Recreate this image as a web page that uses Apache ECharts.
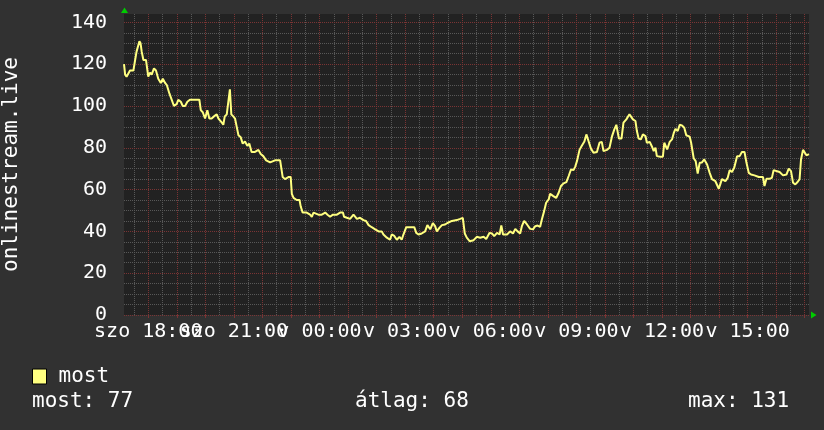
<!DOCTYPE html>
<html>
<head>
<meta charset="utf-8">
<script src="https://cdn.jsdelivr.net/npm/echarts@6/dist/echarts.min.js"></script>
<style>
  html, body { margin: 0; padding: 0; background: #313131; }
  #chart { width: 824px; height: 430px; }
</style>
</head>
<body>
<div id="chart"></div>
<script>
// idő órában, szombat 00:00-tól számolva (24 felett = vasárnap)
const TIME_H = [
  17.15, 17.19, 17.24, 17.30, 17.36, 17.48, 17.54, 17.59, 17.69, 17.73, 17.77, 17.83, 17.92,
  18.00, 18.06, 18.12, 18.20, 18.27, 18.35, 18.44, 18.51, 18.59, 18.65, 18.74, 18.82, 18.90,
  19.00, 19.05, 19.14, 19.21, 19.29, 19.37, 19.46, 19.58, 19.70, 19.79, 19.84, 19.91, 19.99,
  20.07, 20.14, 20.22, 20.30, 20.40, 20.46, 20.51, 20.58, 20.63, 20.68, 20.75, 20.81, 20.86, 20.91, 20.98,
  21.04, 21.10, 21.16, 21.24, 21.31, 21.39, 21.47, 21.54, 21.62, 21.74, 21.86, 21.94,
  22.03, 22.13, 22.27, 22.44, 22.62, 22.69, 22.71, 22.79, 22.91, 22.99,
  23.03, 23.09, 23.20, 23.30, 23.34, 23.41, 23.55, 23.67, 23.73, 23.79, 23.96,
  24.08, 24.20, 24.28, 24.37, 24.47, 24.61, 24.72, 24.82, 24.86, 24.96,
  25.07, 25.19, 25.31, 25.42, 25.54, 25.63, 25.72, 25.83, 25.95,
  26.07, 26.18, 26.24, 26.36, 26.47, 26.53, 26.61, 26.71, 26.80, 26.88, 26.94,
  27.04, 27.18, 27.32, 27.39, 27.47, 27.58, 27.70, 27.78, 27.88, 27.97,
  28.05, 28.11, 28.20, 28.29, 28.40, 28.48, 28.55, 28.64, 28.81, 28.93,
  29.02, 29.07, 29.09, 29.16, 29.26, 29.40, 29.51, 29.63, 29.75, 29.84, 29.96,
  30.04, 30.12, 30.22, 30.31, 30.37, 30.43, 30.57, 30.68, 30.78, 30.86, 30.94,
  31.03, 31.09, 31.17, 31.27, 31.38, 31.48, 31.56, 31.64, 31.73, 31.79, 31.87, 31.94,
  32.03, 32.08, 32.18, 32.29, 32.38, 32.46, 32.55, 32.65, 32.73, 32.81, 32.90, 32.96,
  33.02, 33.11, 33.19, 33.28, 33.35, 33.43, 33.51, 33.60, 33.72, 33.81, 33.89, 33.95,
  34.07, 34.16, 34.25, 34.33, 34.40, 34.44, 34.49, 34.58, 34.65, 34.75, 34.86, 34.98,
  35.07, 35.12, 35.18, 35.26, 35.33, 35.42, 35.47, 35.57, 35.65, 35.71, 35.77, 35.82, 35.94,
  36.03, 36.08, 36.18, 36.27, 36.35, 36.41, 36.47, 36.55, 36.62, 36.70, 36.78, 36.85, 36.97,
  37.02, 37.11, 37.18, 37.25, 37.32, 37.40, 37.48, 37.58, 37.67, 37.75, 37.87, 37.99,
  38.04, 38.10, 38.22, 38.30, 38.37, 38.45, 38.53, 38.63, 38.72, 38.80, 38.89, 38.96,
  39.04, 39.12, 39.24, 39.39, 39.54, 39.59, 39.66, 39.77, 39.85, 39.91,
  40.03, 40.12, 40.24, 40.36, 40.44, 40.52, 40.59, 40.67, 40.75, 40.82, 40.87, 40.94, 40.99,
  41.06, 41.15
];
const VIEWERS = [
  120, 115, 114, 114, 117, 117, 122, 126, 131, 130, 126, 122, 122,
  114, 116, 115, 118, 117, 113, 111, 113, 111, 110, 106, 103, 100,
  101, 103, 102, 100, 100, 102, 103, 103, 103, 103, 98, 97, 94,
  98, 94, 94, 95, 96, 94, 94, 92, 91, 95, 96, 96, 108, 96, 95,
  94, 90, 86, 85, 82, 83, 81, 82, 78, 78, 79, 77,
  76, 74, 73, 74, 74, 74, 66, 65, 66, 66,
  58, 56, 55, 55, 52, 49, 49, 48, 47, 49, 48,
  48, 49, 48, 47, 48, 48, 49, 49, 47, 46.5,
  46, 48, 46, 46.5, 45.4, 45, 43, 42, 41,
  40, 40, 38.5, 37, 36, 38.5, 38, 36, 37.4, 36, 38.5,
  42, 42, 42, 39.3, 38.5, 39, 40, 43, 41, 44,
  42.5, 40, 41.7, 43, 43.3, 44, 43.3, 45, 45.4, 46,
  46.5, 46.5, 39, 37, 35.3, 35.8, 37.4, 37, 37.4, 36.4, 39.3,
  39, 37.7, 39.3, 38.5, 42.8, 38.5, 38.5, 40, 39, 41.2, 40,
  39, 42.5, 45, 43.3, 41.2, 41, 42.5, 42.8, 42.2, 45.7, 49.7, 53.7,
  55.3, 58, 57, 56, 58.5, 61.7, 63, 63.6, 66.5, 69.6, 69.3, 71,
  73.6, 79, 81, 83, 86.4, 83, 79.6, 77.6, 78, 82.4, 82.8, 78.4,
  79, 80, 85.6, 88.8, 91, 88, 84.4, 84.4, 92, 93.6, 96, 93.6,
  92.8, 88, 84.4, 84, 86.4, 85.6, 82.4, 82.8, 80.5, 78.4, 80, 76, 75.7,
  75.7, 82.4, 79.2, 82.8, 84, 87, 89, 88, 91, 90.7, 89.6, 86, 85.3,
  82.4, 75, 73.6, 67.7, 72.8, 73, 74.4, 72, 68, 65, 64, 60.4,
  62.5, 65, 64, 65.6, 69.3, 68.4, 70.4, 76, 76, 78, 78, 72.8,
  68, 67.2, 66.8, 66, 66, 61.7, 65.2, 65.2, 65.6, 69.3,
  68.8, 68.4, 66.8, 67.2, 70, 68.8, 63.3, 62.5, 63.6, 65, 74.4, 79, 78.4,
  76.4, 77
];
// címkék 3 óránként; két tengelyre szétosztva, hogy az átfedő címkék is megmaradjanak
const X_LABEL_HOURS_A = [18, 24, 30, 36];
const X_LABEL_HOURS_B = [21, 27, 33, 39];
const Y_LABELS = [0, 20, 40, 60, 80, 100, 120, 140];
const STATS = [["most", "77"], ["átlag", "68"], ["max", "131"]];
const X_MIN = 17.15, X_MAX = 41.15, Y_MAX = 144;

const FONT = '"DejaVu Sans Mono", monospace';
const MAJOR = "#7a3434";
const MINOR = "#585858";
const LINE = "#ffff80";

const range = (a, b, step) => {
  const out = [];
  for (let v = a; v <= b + 1e-9; v += step) out.push(+v.toFixed(2));
  return out;
};
const hourLines = range(18, 41, 1);
const halfHourLines = range(17.5, 40.5, 1);
const yMinor = range(5, 140, 5).filter((v) => v % 20 !== 0);

const pad2 = (n) => String(n).padStart(2, "0");
const fmtHour = (t) => (t < 24 ? "szo " : "v ") + pad2(Math.round(t) % 24) + ":00";

const xLabel = (values) => ({
  customValues: values,
  formatter: fmtHour,
  showMinLabel: true,
  showMaxLabel: true,
  color: "#ffffff", fontFamily: FONT, fontSize: 20, margin: 7
});

const chart = echarts.init(document.getElementById("chart"));

chart.setOption({
  animation: false,
  backgroundColor: "#313131",
  grid: {
    left: 124, top: 14, width: 685, height: 301,
    show: true, backgroundColor: "#222222", borderWidth: 0,
    outerBoundsMode: "none", containLabel: false
  },
  xAxis: [
    {
      // fél órás segédrács
      type: "value", position: "bottom", min: X_MIN, max: X_MAX, z: 0,
      axisLine: { show: false },
      axisLabel: xLabel(X_LABEL_HOURS_B),
      axisTick: { show: false, customValues: halfHourLines },
      splitLine: { show: true, lineStyle: { color: MINOR, width: 1, type: [1, 1] } }
    },
    {
      type: "value", position: "bottom", min: X_MIN, max: X_MAX, z: 1,
      axisLine: { show: false },
      axisTick: { show: true, customValues: hourLines, length: 3, lineStyle: { color: MAJOR } },
      axisLabel: xLabel(X_LABEL_HOURS_A),
      splitLine: { show: true, lineStyle: { color: MAJOR, width: 1, type: [1, 1] } }
    }
  ],
  yAxis: [
    {
      type: "value", position: "left", min: 0, max: Y_MAX, z: 0,
      axisLine: { show: false },
      axisLabel: { show: false },
      axisTick: { show: false, customValues: yMinor },
      splitLine: { show: true, lineStyle: { color: MINOR, width: 1, type: [1, 1] } }
    },
    {
      type: "value", position: "left", min: 0, max: Y_MAX, z: 1,
      name: "onlinestream.live",
      nameLocation: "middle",
      nameGap: 102,
      nameTextStyle: { color: "#ffffff", fontFamily: FONT, fontSize: 21 },
      axisLine: { show: false },
      axisTick: { show: false, customValues: Y_LABELS },
      axisLabel: {
        customValues: Y_LABELS,
        showMinLabel: true, showMaxLabel: true,
        color: "#ffffff", fontFamily: FONT, fontSize: 20, margin: 17
      },
      splitLine: { show: true, lineStyle: { color: MAJOR, width: 1, type: [1, 1] } }
    }
  ],
  legend: {
    left: 32, top: 366, padding: 0,
    icon: "rect", itemWidth: 14, itemHeight: 15,
    itemStyle: { borderColor: "#000000", borderWidth: 1 },
    textStyle: { color: "#ffffff", fontFamily: FONT, fontSize: 21, padding: [0, 0, 0, 7] },
    data: ["most"]
  },
  series: [
    {
      name: "most",
      type: "line",
      xAxisIndex: 1,
      yAxisIndex: 1,
      data: TIME_H.map((t, i) => [t, VIEWERS[i]]),
      showSymbol: false,
      symbol: "none",
      lineStyle: { color: LINE, width: 2 },
      itemStyle: { color: LINE },
      z: 5
    }
  ],
  graphic: [
    // zöld nyilak a tengelyek végén
    { type: "polygon", shape: { points: [[121, 13], [124.5, 7.5], [128, 13]] }, style: { fill: "#00cc00" } },
    { type: "polygon", shape: { points: [[811, 311.5], [816.5, 315], [811, 318.5]] }, style: { fill: "#00cc00" } },
    ...STATS.map(([label, val], i) => ({
      type: "text",
      x: [32, 355, 688][i],
      y: 402,
      style: {
        text: label + ": " + val,
        fill: "#ffffff",
        font: "21px " + FONT,
        verticalAlign: "middle"
      }
    }))
  ]
});
</script>
</body>
</html>
